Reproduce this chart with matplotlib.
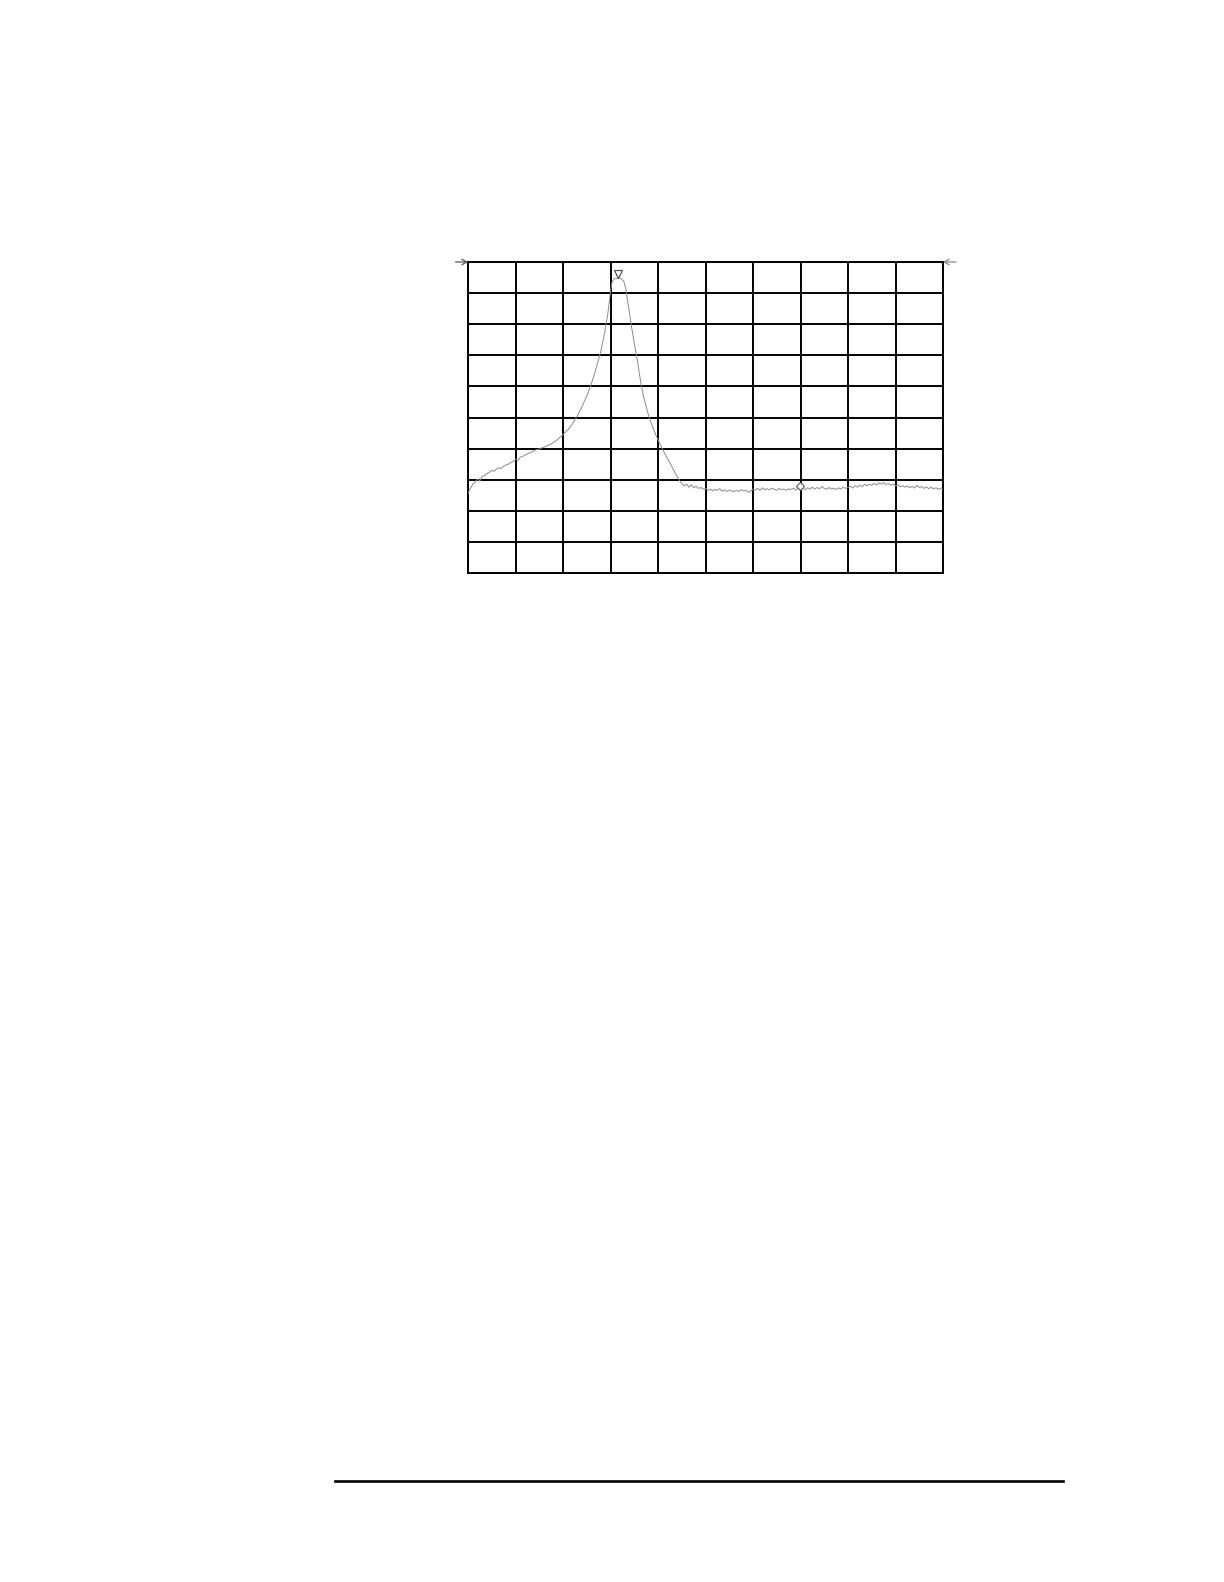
import matplotlib
matplotlib.use("Agg")
import matplotlib.pyplot as plt
from matplotlib.lines import Line2D

# ---- data (divisions: x 0..10 across, y 0..10 from bottom) ----
signal_x = [0.00, 0.05, 0.10, 0.15, 0.20, 0.25, 0.30, 0.35, 0.40, 0.45,
            0.50, 0.55, 0.60, 0.65, 0.70, 0.75, 0.80, 0.85, 0.90, 0.95,
            1.00, 1.05, 1.10, 1.15, 1.20, 1.25, 1.30, 1.35, 1.40, 1.45,
            1.50, 1.55, 1.60, 1.65, 1.70, 1.75, 1.80, 1.85, 1.90, 1.95,
            2.00, 2.10, 2.20, 2.30, 2.40, 2.50, 2.60, 2.70, 2.80, 2.88,
            2.95, 3.00, 3.03, 3.08, 3.15, 3.22, 3.28, 3.32, 3.36, 3.40,
            3.45, 3.50, 3.55, 3.60, 3.65, 3.70, 3.75, 3.80, 3.85, 3.90,
            3.95, 4.00, 4.05, 4.10, 4.15, 4.20, 4.25, 4.30, 4.35, 4.40,
            4.45]
signal_y = [2.57, 2.72, 2.85, 2.93, 3.02, 2.96, 3.10, 3.14, 3.20, 3.24,
            3.30, 3.27, 3.35, 3.38, 3.36, 3.44, 3.47, 3.50, 3.55, 3.58,
            3.65, 3.62, 3.72, 3.75, 3.79, 3.83, 3.86, 3.90, 3.94, 3.97,
            3.98, 4.02, 4.05, 4.08, 4.12, 4.15, 4.20, 4.25, 4.31, 4.38,
            4.45, 4.60, 4.80, 5.05, 5.35, 5.69, 6.10, 6.60, 7.15, 7.75,
            8.40, 9.05, 9.35, 9.46, 9.48, 9.47, 9.38, 9.15, 8.75, 8.35,
            7.85, 7.40, 6.98, 6.50, 6.01, 5.65, 5.35, 5.08, 4.85, 4.65,
            4.45, 4.29, 4.12, 3.96, 3.82, 3.68, 3.54, 3.40, 3.25, 3.10,
            2.98]

floor_x = [4.50, 4.55, 4.60, 4.65, 4.70, 4.75, 4.80, 4.85, 4.90, 4.95,
           5.00, 5.05, 5.10, 5.15, 5.20, 5.25, 5.30, 5.35, 5.40, 5.45,
           5.50, 5.55, 5.60, 5.65, 5.70, 5.75, 5.80, 5.85, 5.90, 5.95,
           6.00, 6.05, 6.10, 6.15, 6.20, 6.25, 6.30, 6.35, 6.40, 6.45,
           6.50, 6.55, 6.60, 6.65, 6.70, 6.75, 6.80, 6.85, 6.90, 6.95,
           7.00, 7.05, 7.10, 7.15, 7.20, 7.25, 7.30, 7.35, 7.40, 7.45,
           7.50, 7.55, 7.60, 7.65, 7.70, 7.75, 7.80, 7.85, 7.90, 7.95,
           8.00, 8.05, 8.10, 8.15, 8.20, 8.25, 8.30, 8.35, 8.40, 8.45,
           8.50, 8.55, 8.60, 8.65, 8.70, 8.75, 8.80, 8.85, 8.90, 8.95,
           9.00, 9.05, 9.10, 9.15, 9.20, 9.25, 9.30, 9.35, 9.40, 9.45,
           9.50, 9.55, 9.60, 9.65, 9.70, 9.75, 9.80, 9.85, 9.90, 9.95,
           10.00]
floor_y = [2.88, 2.80, 2.86, 2.76, 2.84, 2.74, 2.79, 2.72, 2.75, 2.70,
           2.72, 2.66, 2.70, 2.64, 2.69, 2.66, 2.71, 2.63, 2.68, 2.62,
           2.67, 2.64, 2.61, 2.66, 2.62, 2.68, 2.64, 2.66, 2.60, 2.63,
           2.70, 2.67, 2.72, 2.66, 2.74, 2.68, 2.71, 2.67, 2.73, 2.69,
           2.66, 2.72, 2.68, 2.70, 2.66, 2.71, 2.68, 2.73, 2.67, 2.72,
           2.80, 2.72, 2.68, 2.74, 2.69, 2.76, 2.70, 2.75, 2.71, 2.78,
           2.72, 2.69, 2.75, 2.70, 2.73, 2.68, 2.74, 2.70, 2.76, 2.72,
           2.75, 2.79, 2.73, 2.81, 2.76, 2.83, 2.78, 2.85, 2.80, 2.86,
           2.82, 2.88, 2.83, 2.90, 2.86, 2.91, 2.84, 2.88, 2.82, 2.86,
           2.80, 2.84, 2.77, 2.81, 2.76, 2.80, 2.74, 2.79, 2.73, 2.82,
           2.75, 2.78, 2.72, 2.77, 2.71, 2.76, 2.70, 2.74, 2.69, 2.73,
           2.70]

peak_marker = (3.16, 9.62)
delta_marker = (6.98, 2.80)
grid_ticks = list(range(11))

# ---- figure ----
fig = plt.figure(figsize=(12.24, 15.82), dpi=100)
W, H = 1224, 1582
left_px, right_px, top_px, bot_px = 468, 943, 262, 573
ax = fig.add_axes([left_px / W, 1 - bot_px / H, (right_px - left_px) / W, (bot_px - top_px) / H])
ax.set_xlim(0, 10)
ax.set_ylim(0, 10)
ax.set_xticks(grid_ticks)
ax.set_yticks(grid_ticks)
ax.tick_params(length=0, labelbottom=False, labelleft=False)
ax.grid(True, color="black", linewidth=1.4)
for s in ax.spines.values():
    s.set_linewidth(1.4)
    s.set_color("black")

trace_color = "#8a8a8a"
ax.plot(signal_x + floor_x, signal_y + floor_y, color=trace_color, linewidth=0.7, zorder=3)

ax.plot([peak_marker[0]], [peak_marker[1]], marker="v", markersize=6, markerfacecolor="white",
        markeredgecolor="#555555", markeredgewidth=0.9, linestyle="none", clip_on=False, zorder=4)
ax.plot([delta_marker[0]], [delta_marker[1]], marker="D", markersize=4, markerfacecolor="white",
        markeredgecolor="#555555", markeredgewidth=0.8, linestyle="none", zorder=4)

# reference level arrows
arrow_style = "->,head_length=0.35,head_width=0.2"
ax.annotate("", xy=(0, 10), xytext=(-0.26, 10),
            arrowprops=dict(arrowstyle=arrow_style, color="#555555", lw=0.9,
                            shrinkA=0, shrinkB=0), annotation_clip=False)
ax.annotate("", xy=(10, 10), xytext=(10.28, 10),
            arrowprops=dict(arrowstyle=arrow_style, color="#888888", lw=0.9,
                            shrinkA=0, shrinkB=0), annotation_clip=False)

# footer rule
fig.add_artist(Line2D([335 / W, 1063 / W], [1 - 1481 / H, 1 - 1481 / H], color="black", linewidth=1.9))

fig.savefig("out.png", dpi=100, facecolor="white")
